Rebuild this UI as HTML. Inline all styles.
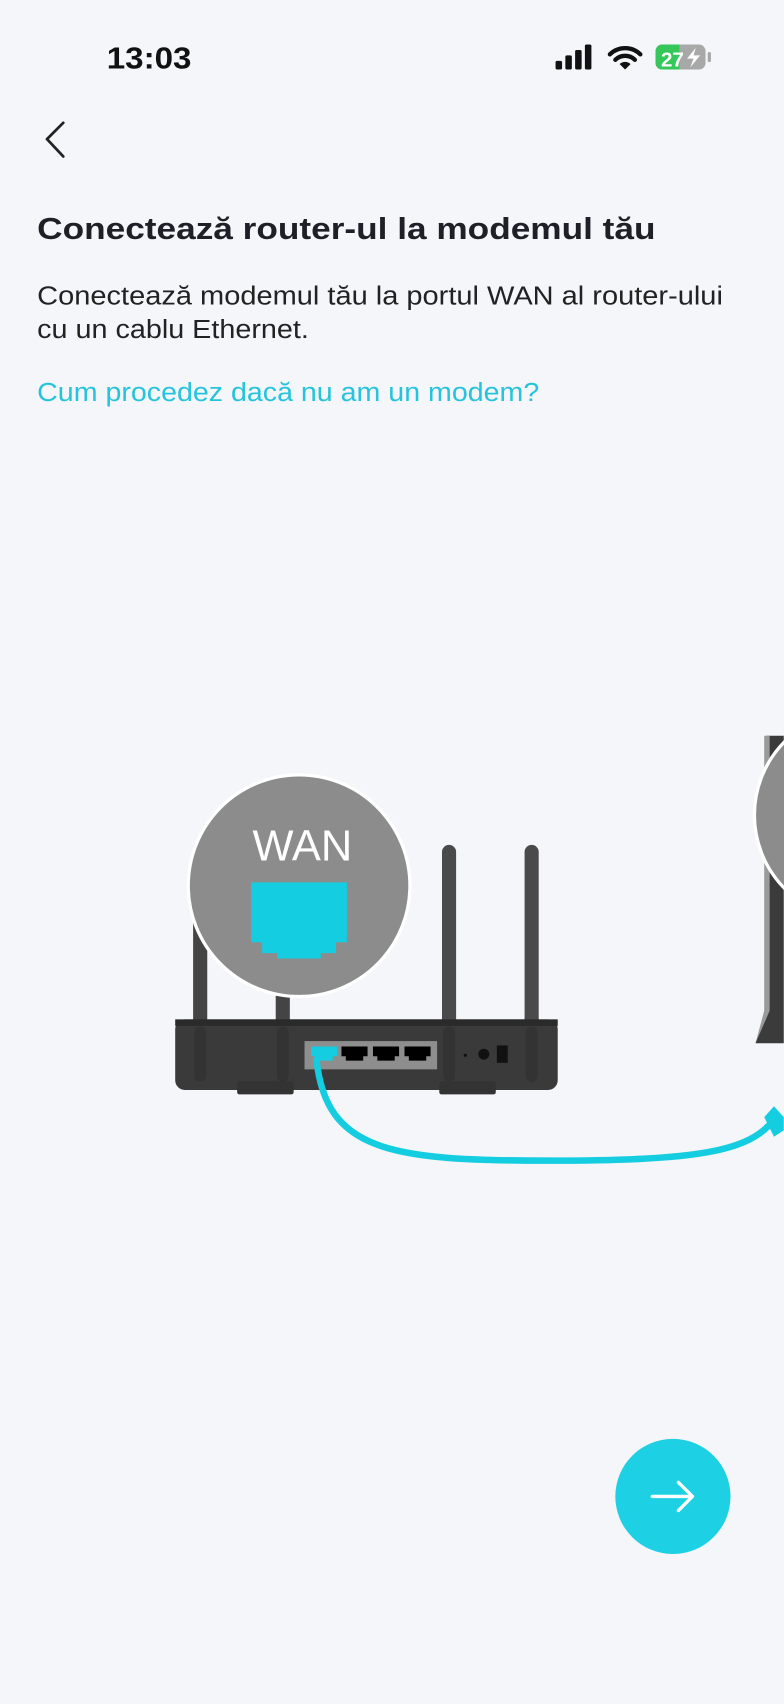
<!DOCTYPE html>
<html><head><meta charset="utf-8"><style>
html,body{margin:0;padding:0;background:#f4f6f9;}
svg{display:block}
</style></head><body>
<svg width="784" height="1704" viewBox="0 0 721 1568" xmlns="http://www.w3.org/2000/svg" font-family="Liberation Sans, sans-serif">
<rect width="721" height="1568" fill="#f4f6f9"/>
<!-- status bar -->
<text x="98" y="63" font-size="28" font-weight="bold" fill="#111" textLength="78" lengthAdjust="spacingAndGlyphs">13:03</text>
<rect x="511" y="56" width="6" height="8" rx="1.5" fill="#111"/>
<rect x="520" y="51" width="6" height="13" rx="1.5" fill="#111"/>
<rect x="529" y="46" width="6" height="18" rx="1.5" fill="#111"/>
<rect x="538" y="41" width="6" height="23" rx="1.5" fill="#111"/>
<path d="M561 50 A20 20 0 0 1 589 50" fill="none" stroke="#111" stroke-width="4" stroke-linecap="round"/>
<path d="M566 55 A13 13 0 0 1 584 55" fill="none" stroke="#111" stroke-width="4" stroke-linecap="round"/>
<path d="M570 59 L575 64 L580 59 A7 7 0 0 0 570 59Z" fill="#111"/>
<rect x="603" y="41" width="46" height="23" rx="6" fill="#a8a8a8"/>
<path d="M609 41 H625 V64 H609 A6 6 0 0 1 603 58 V47 A6 6 0 0 1 609 41Z" fill="#35c759"/>
<rect x="651" y="48" width="3" height="9" rx="1" fill="#a8a8a8"/>
<text x="608" y="61" font-size="19" font-weight="bold" fill="#fff">27</text>
<path d="M640 44 L632 54 H638 L635 62 L644 51 H638 Z" fill="#fff"/>
<!-- back -->
<path d="M58 113 L43 128 L58 144" fill="none" stroke="#222" stroke-width="2.5" stroke-linecap="round" stroke-linejoin="round"/>
<!-- texts -->
<text x="34" y="220" font-size="28" font-weight="bold" fill="#1d2127" textLength="569" lengthAdjust="spacingAndGlyphs">Conectează router-ul la modemul tău</text>
<text x="34" y="280" font-size="24" fill="#222" textLength="631" lengthAdjust="spacingAndGlyphs">Conectează modemul tău la portul WAN al router-ului</text>
<text x="34" y="311" font-size="24" fill="#222" textLength="250" lengthAdjust="spacingAndGlyphs">cu un cablu Ethernet.</text>
<text x="34" y="369" font-size="24" fill="#26c4dc" textLength="462" lengthAdjust="spacingAndGlyphs">Cum procedez dacă nu am un modem?</text>
<!-- modem right -->
<path d="M705 677 H721 V960 H695 L705 930 Z" fill="#3b3b3b"/>
<path d="M703 677 H708 V930 L695 960 L703 930 Z" fill="#9a9a9a"/>
<circle cx="790" cy="750" r="96" fill="#8c8c8c" stroke="#fff" stroke-width="3"/>
<!-- antennas -->
<g stroke-linecap="round" stroke-width="13">
<line x1="184" y1="850" x2="184" y2="990" stroke="#444"/>
<line x1="260" y1="850" x2="260" y2="990" stroke="#444"/>
<line x1="413" y1="784" x2="413" y2="990" stroke="#4a4a4a"/>
<line x1="489" y1="784" x2="489" y2="990" stroke="#4a4a4a"/>
</g>
<!-- router -->
<rect x="161" y="938" width="352" height="65" rx="9" fill="#3a3a3a"/>
<rect x="161" y="938" width="352" height="6" fill="#2a2a2a"/>
<rect x="218" y="995" width="52" height="12" rx="2" fill="#333"/>
<rect x="404" y="995" width="52" height="12" rx="2" fill="#333"/>
<g stroke-linecap="round" stroke-width="11" stroke="#333">
<line x1="184" y1="950" x2="184" y2="990"/><line x1="260" y1="950" x2="260" y2="990"/>
<line x1="413" y1="950" x2="413" y2="990"/><line x1="489" y1="950" x2="489" y2="990"/>
</g>
<rect x="280" y="958" width="122" height="26" fill="#8e8e8e"/>
<path d="M286 963 h24 v9 h-4 v4 h-16 v-4 h-4z" fill="#14cde0"/>
<path d="M314 963 h24 v9 h-4 v4 h-16 v-4 h-4z" fill="#000"/>
<path d="M343 963 h24 v9 h-4 v4 h-16 v-4 h-4z" fill="#000"/>
<path d="M372 963 h24 v9 h-4 v4 h-16 v-4 h-4z" fill="#000"/>
<circle cx="428" cy="971" r="1.5" fill="#111"/>
<circle cx="445" cy="970" r="5" fill="#111"/>
<rect x="457" y="962" width="10" height="16" fill="#111"/>
<!-- cable -->
<path d="M291 975 C300 1060 360 1068 505 1068 C640 1068 690 1060 712 1030" fill="none" stroke="#14cde0" stroke-width="6" stroke-linecap="round"/>
<path d="M703 1028 L712 1018 L721 1028 L721 1040 L712 1046 Z" fill="#14cde0"/>
<!-- WAN bubble -->
<circle cx="275" cy="815" r="102" fill="#8c8c8c" stroke="#fff" stroke-width="3"/>
<text x="278" y="792" font-size="40" fill="#fff" text-anchor="middle">WAN</text>
<path d="M231 812 h88 v55 h-10 v10 h-14 v5 h-40 v-5 h-14 v-10 h-10z" fill="#14cde0"/>
<!-- next button -->
<circle cx="619" cy="1377" r="53" fill="#1ed0e4"/>
<path d="M600 1377 H637 M624 1364 L637 1377 L624 1390" fill="none" stroke="#fff" stroke-width="3" stroke-linecap="round" stroke-linejoin="round"/>
</svg>
</body></html>
